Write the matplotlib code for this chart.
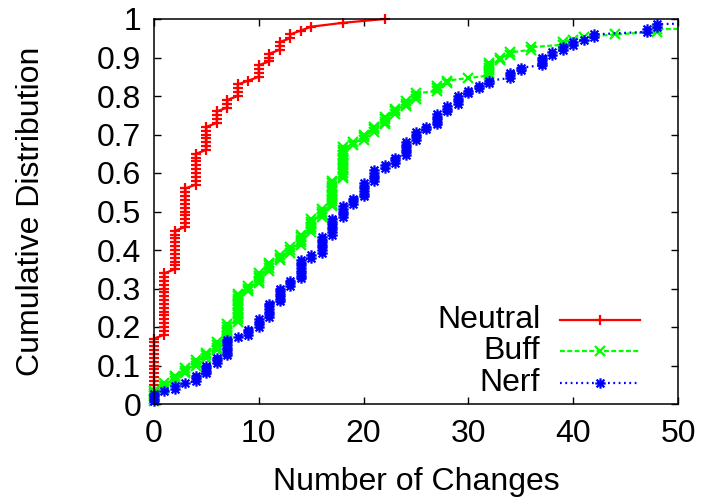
import numpy as np
import matplotlib
matplotlib.use('Agg')
import matplotlib.pyplot as plt
from matplotlib.path import Path

plt.rcParams['font.family'] = ['Liberation Sans', 'DejaVu Sans']

neutral_vals = [0, 1, 2, 3, 4, 5, 6, 7, 8, 9, 10, 11, 12, 13, 14, 15, 18, 22]
neutral_counts = [17, 17, 11, 11, 9, 7, 4, 3, 4, 1, 4, 3, 3, 2, 1, 1, 1, 1]

buff_vals = [0, 1, 2, 3, 4, 5, 6, 7, 8, 9, 10, 11, 12, 13, 14, 15, 16, 17, 18, 19,
             20, 21, 22, 23, 24, 25, 27, 28, 30, 32, 33, 34, 36, 39, 40, 41, 44, 48,
             60, 75, 90, 120]
buff_counts = [5, 3, 3, 3, 3, 3, 4, 7, 12, 3, 5, 4, 3, 3, 5, 6, 4, 11, 13, 2,
               3, 3, 4, 3, 3, 3, 3, 2, 1, 6, 2, 2, 2, 2, 1, 1, 1, 2,
               1, 1, 1, 1]

nerf_vals = [0, 1, 2, 3, 4, 5, 6, 7, 8, 9, 10, 11, 12, 13, 14, 15, 16, 17, 18, 19,
             20, 21, 22, 23, 24, 25, 26, 27, 28, 29, 30, 31, 32, 34, 35, 37, 38, 39,
             40, 41, 42, 47, 48, 60]
nerf_counts = [4, 1, 2, 1, 3, 4, 3, 7, 1, 3, 4, 6, 6, 3, 8, 2, 7, 7, 5, 3,
               6, 5, 2, 3, 6, 4, 2, 5, 3, 4, 2, 2, 2, 3, 2, 4, 2, 2,
               2, 1, 2, 2, 2, 2]

labels = ['Neutral', 'Buff', 'Nerf']
colors = ['#ff0000', '#00ff00', '#0000ff']
xmax = 50
fs = 23


def cdf(vals, counts):
    x = np.repeat(np.array(vals, dtype=float), counts)
    y = np.arange(1, len(x) + 1) / len(x)
    return x, y


# gnuplot style asterisk (plus + cross)
star = Path([(-1, 0), (1, 0), (0, -1), (0, 1), (-0.75, -0.75), (0.75, 0.75), (-0.75, 0.75), (0.75, -0.75)],
            [Path.MOVETO, Path.LINETO] * 4)

styles = [
    dict(ls='-', marker='+', ms=7),
    dict(ls=(0, (2.2, 1.1)), marker='x', ms=7),
    dict(ls=(0, (0.8, 1.6)), marker=star, ms=7.5),
]

fig = plt.figure(figsize=(7.01, 4.99), dpi=100)
ax = fig.add_axes([154 / 701, 1 - 404 / 499, 524 / 701, 385 / 499])

series = [cdf(neutral_vals, neutral_counts), cdf(buff_vals, buff_counts), cdf(nerf_vals, nerf_counts)]
for (x, y), c, st in zip(series, colors, styles):
    ax.plot(x, y, color=c, lw=1.6, ls=st['ls'])
    keep = x <= xmax
    ax.plot(x[keep], y[keep], ls='none', marker=st['marker'], ms=st['ms'], mew=1.6,
            mec=c, mfc='none', clip_on=False)

ax.set_xlim(0, xmax)
ax.set_ylim(0, 1)
ax.set_xticks(np.arange(0, 51, 10))
ax.set_yticks(np.arange(0, 1.01, 0.1))
ax.set_yticklabels(['0', '0.1', '0.2', '0.3', '0.4', '0.5', '0.6', '0.7', '0.8', '0.9', '1'])
ax.tick_params(direction='in', length=5, width=1, top=True, right=True, labelsize=fs)
ax.tick_params(axis='y', pad=9)
ax.tick_params(axis='x', pad=11)
for s in ax.spines.values():
    s.set_linewidth(1.1)

ax.set_xlabel('Number of Changes', fontsize=fs, labelpad=13)
ax.set_ylabel('Cumulative Distribution', fontsize=fs, labelpad=37)

# gnuplot-like key: right-justified text, sample line with point in the middle
key_y = [0.218, 0.138, 0.055]
for lab, c, st, ky in zip(labels, colors, styles, key_y):
    ax.text(0.737, ky, lab, transform=ax.transAxes, ha='right', va='center', fontsize=fs)
    ax.plot([0.775, 0.927], [ky, ky], transform=ax.transAxes, color=c, lw=1.6, ls=st['ls'])
    ax.plot([0.851], [ky], transform=ax.transAxes, ls='none', marker=st['marker'],
            ms=st['ms'], mew=1.6, mec=c, mfc='none')

fig.savefig('out.png', dpi=100)
